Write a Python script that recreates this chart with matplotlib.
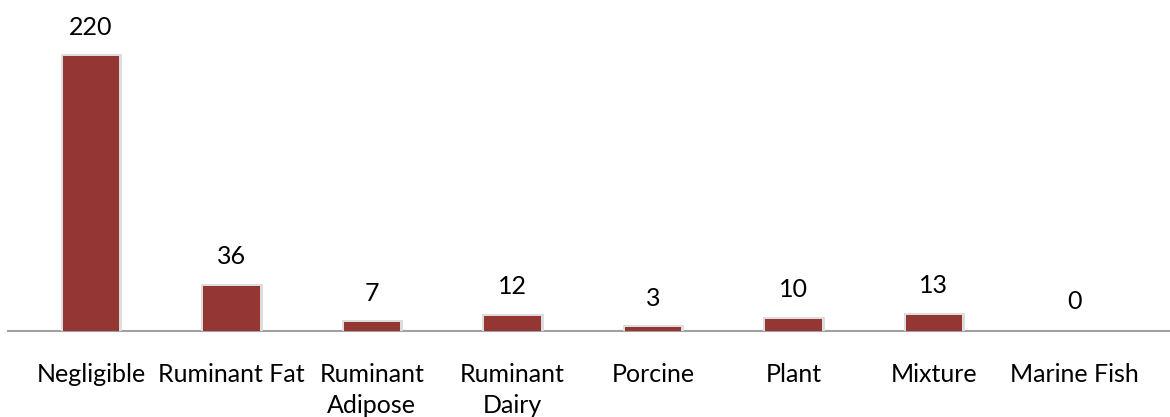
import matplotlib
matplotlib.use("Agg")
import matplotlib.pyplot as plt
import matplotlib.patheffects as pe

categories = ["Negligible", "Ruminant Fat", "Ruminant\nAdipose", "Ruminant\nDairy",
              "Porcine", "Plant", "Mixture", "Marine Fish"]
values = [220, 36, 7, 12, 3, 10, 13, 0]

plt.rcParams['font.family'] = ['Lato', 'DejaVu Sans']

fig = plt.figure(figsize=(11.7, 4.17), dpi=100)
ax = fig.add_axes([8/1170, 86/417, 1 - 8/1170, 312/417])

x = list(range(len(categories)))
bars = ax.bar(x, values, width=0.40, color='#943634', zorder=3)
for b, v in zip(bars, values):
    if v > 0:
        b.set_path_effects([pe.Stroke(linewidth=3.5, foreground='#dcdcdc'), pe.Normal()])

for xi, v in zip(x, values):
    ax.annotate(str(v), (xi, v), xytext=(0, 21), textcoords='offset points',
                ha='center', va='center', fontsize=18, color='black')

ax.set_xlim(-0.59, 7.68)
ax.set_ylim(0, 250)
ax.set_xticks(x)
ax.set_xticklabels(categories, fontsize=18, linespacing=1.4, va='top')
ax.tick_params(axis='x', length=0, pad=23)
ax.set_yticks([])
for s in ['top', 'right', 'left']:
    ax.spines[s].set_visible(False)
ax.spines['bottom'].set_color('#a0a0a0')
ax.spines['bottom'].set_linewidth(1.5)

fig.savefig('out.png', dpi=100)
